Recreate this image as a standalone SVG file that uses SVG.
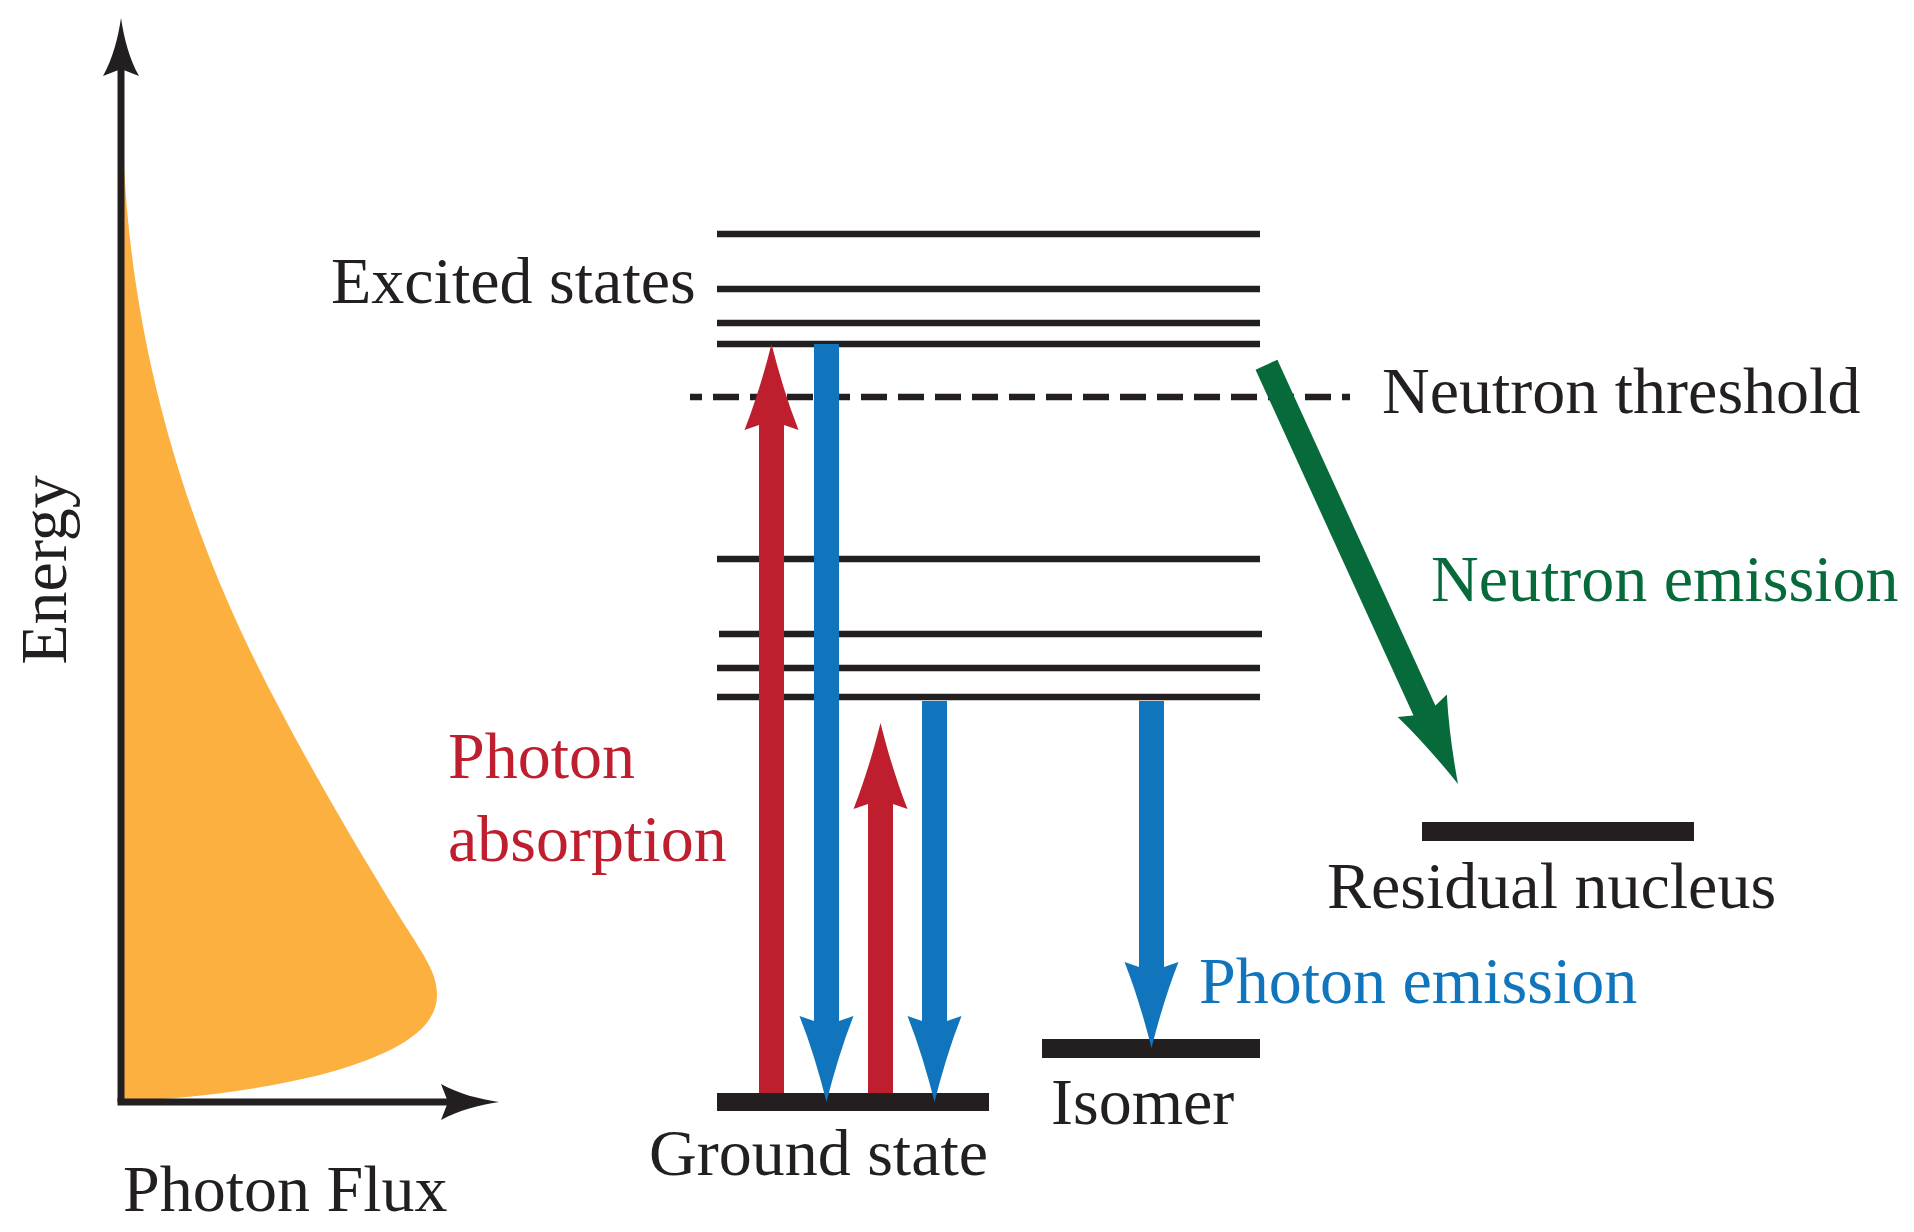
<svg xmlns="http://www.w3.org/2000/svg" width="1914" height="1232" viewBox="0 0 1914 1232">
<style>
  text { font-family: "Liberation Serif", "Times New Roman", serif; font-size: 66px; fill: #231F20; }
  .lvl { stroke: #231F20; stroke-width: 6.6; fill: none; }
  .bar { fill: #231F20; }
  .red { fill: #BE1E2D; }
  .blue { fill: #1075BC; }
  .green { fill: #066A3A; }
  text.tred { fill: #BE1E2D; }
  text.tblue { fill: #1075BC; }
  text.tgreen { fill: #066A3A; }
</style>
<defs>
  <path id="head" d="M0,0 C7,28 16,58 27,86 L12.5,81 L-12.5,81 L-27,86 C-16,58 -7,28 0,0 Z"/>
  <path id="axhead" d="M0,0 C3,20 8,40 18,58 L0,51 L-18,58 C-8,40 -3,20 0,0 Z"/>
</defs>

<g id="spectrum">
  <path fill="#FBB040" d="M121,165 L124,165 C132,330 175,480 227,600 C274,710 364,860 408,930 C427,960 437,975 437,995 C437,1030 395,1055 320,1075 C250,1092 180,1099 124,1101 L121,1101 Z"/>
</g>

<g id="axes">
  <line x1="121" y1="60" x2="121" y2="1102" stroke="#231F20" stroke-width="7"/>
  <line x1="117.5" y1="1102" x2="455" y2="1102" stroke="#231F20" stroke-width="7"/>
  <use href="#axhead" transform="translate(121,18)" class="bar"/>
  <use href="#axhead" transform="translate(499,1102) rotate(90)" class="bar"/>
</g>

<g id="excited-states">
  <line class="lvl" x1="717" y1="234" x2="1260" y2="234"/>
  <line class="lvl" x1="717" y1="289" x2="1260" y2="289"/>
  <line class="lvl" x1="717" y1="323" x2="1260" y2="323"/>
  <line class="lvl" x1="717" y1="344" x2="1260" y2="344"/>
  <line class="lvl" x1="717" y1="559" x2="1260" y2="559"/>
  <line class="lvl" x1="719" y1="634" x2="1262" y2="634"/>
  <line class="lvl" x1="717" y1="668" x2="1260" y2="668"/>
  <line class="lvl" x1="717" y1="697" x2="1260" y2="697"/>
</g>

<g id="neutron-threshold">
  <line x1="690" y1="397" x2="1350" y2="397" stroke="#231F20" stroke-width="6.6" stroke-dasharray="12 11 26 11 26 11 26 11 26 11 26 11 26 11 26 11 26 11 26 11 26 11 26 11 26 11 26 11 26 11 26 11 26 11 26 11 26 11 26 11 26 11 26 11 26 11 26 11 26 11 26 11 26 11 26 11"/>
</g>

<g id="ground-state"><rect class="bar" x="717" y="1093" width="272" height="18"/></g>
<g id="isomer"><rect class="bar" x="1042" y="1039" width="218" height="19"/></g>
<g id="residual-nucleus"><rect class="bar" x="1422" y="822" width="272" height="19"/></g>

<g id="connectors">
  <g class="red">
    <rect x="759" y="422" width="25" height="671"/>
    <use href="#head" transform="translate(771.5,344)"/>
  </g>
  <g class="blue">
    <rect x="814" y="344" width="25" height="681"/>
    <use href="#head" transform="translate(826.5,1102) rotate(180)"/>
  </g>
  <g class="red">
    <rect x="868" y="801" width="25" height="292"/>
    <use href="#head" transform="translate(880.5,723)"/>
  </g>
  <g class="blue">
    <rect x="922" y="701" width="25" height="324"/>
    <use href="#head" transform="translate(934.5,1102) rotate(180)"/>
  </g>
  <g class="blue">
    <rect x="1139" y="701" width="25" height="270"/>
    <use href="#head" transform="translate(1151.5,1048) rotate(180)"/>
  </g>
  <g class="green" transform="translate(1458,784) rotate(155.45)">
    <rect x="-12" y="78" width="24" height="383"/>
    <use href="#head"/>
  </g>
</g>

<g id="labels">
  <text x="331" y="303">Excited states</text>
  <text x="1382" y="413">Neutron threshold</text>
  <text class="tgreen" x="1431" y="601">Neutron emission</text>
  <text x="1327" y="908">Residual nucleus</text>
  <text class="tblue" x="1199" y="1003">Photon emission</text>
  <text x="1051" y="1124">Isomer</text>
  <text x="649" y="1175">Ground state</text>
  <text class="tred" x="448" y="778">Photon</text>
  <text class="tred" x="448" y="861">absorption</text>
  <text x="123" y="1211">Photon Flux</text>
  <text transform="translate(66,570) rotate(-90)" text-anchor="middle">Energy</text>
</g>
</svg>
